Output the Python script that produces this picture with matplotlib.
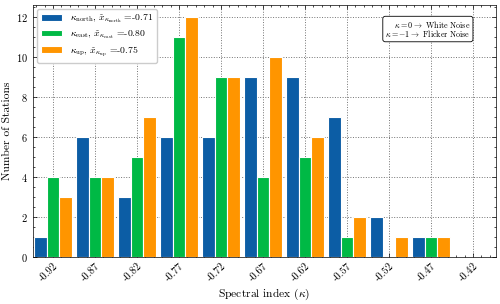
import numpy as np
import matplotlib
matplotlib.use('Agg')
import matplotlib.pyplot as plt
from matplotlib.ticker import MultipleLocator

plt.rcParams['font.family'] = ['cmr10', 'DejaVu Serif']
plt.rcParams['mathtext.fontset'] = 'cm'
plt.rcParams['axes.unicode_minus'] = False
plt.rcParams['axes.formatter.use_mathtext'] = True

# bin centres (spectral index) and station counts per component
centers = [-0.92, -0.87, -0.82, -0.77, -0.72, -0.67, -0.62, -0.57, -0.52, -0.47, -0.42]
tick_labels = ['-0.92', '-0.87', '-0.82', '-0.77', '-0.72', '-0.67', '-0.62',
               '-0.57', '-0.52', '-0.47', '-0.42']
n_north = [1, 6, 3, 6, 6, 9, 9, 7, 2, 1, 0]
n_east = [4, 4, 5, 11, 9, 4, 5, 1, 0, 1, 0]
n_up = [3, 4, 7, 12, 9, 10, 6, 2, 1, 1, 0]
med = {'north': -0.71, 'east': -0.80, 'up': -0.75}

colors = ['#0C5DA5', '#00B945', '#FF9500']
w = 0.015
x = np.array(centers)

fig = plt.figure(figsize=(5.0, 3.04), dpi=100)
ax = fig.add_axes([0.066, 0.156, 0.926, 0.828])

series = [('north', n_north), ('east', n_east), ('up', n_up)]
for i, (name, vals) in enumerate(series):
    lab = (r'$\kappa_{\rm %s}$, $\tilde{x}_{\kappa_{\rm %s}}$ =%.2f'
           % (name, name, med[name]))
    ax.bar(x + (i - 1) * w, vals, width=w, color=colors[i],
           edgecolor='white', linewidth=0.8, label=lab, zorder=2)

ax.set_xticks(centers)
ax.set_xticklabels(tick_labels, rotation=45, ha='right', rotation_mode='anchor',
                   fontsize=7.5)
ax.xaxis.set_minor_locator(MultipleLocator(0.01))
ax.yaxis.set_major_locator(MultipleLocator(2))
ax.yaxis.set_minor_locator(MultipleLocator(0.5))
ax.tick_params(axis='y', labelsize=7.5)
ax.tick_params(which='both', direction='in', top=True, right=True)
ax.tick_params(which='major', length=3, width=0.5)
ax.tick_params(which='minor', length=1.5, width=0.5)
for s in ax.spines.values():
    s.set_linewidth(0.5)

ax.set_xlim(-0.9438, -0.3926)
ax.set_ylim(0, 12.6)
ax.grid(True, which='major', ls=':', color='0.45', lw=0.7, zorder=0)
ax.set_axisbelow(True)

ax.set_xlabel(r'Spectral index ($\kappa$)', fontsize=8.3, labelpad=2)
ax.set_ylabel('Number of Stations', fontsize=8.3, labelpad=3)

ax.legend(loc='upper left', fontsize=7, frameon=True, framealpha=1,
          edgecolor='0.8', handlelength=2.2, borderaxespad=0.4,
          labelspacing=0.3)

ax.text(0.945, 0.945, '$\\kappa = 0 \\rightarrow$ White Noise\n'
        '$\\kappa = -1 \\rightarrow$ Flicker Noise',
        transform=ax.transAxes, ha='right', va='top', fontsize=5.8,
        multialignment='right', linespacing=0.85,
        bbox=dict(boxstyle='round,pad=0.3', fc='white', ec='black', lw=0.6))

fig.savefig('out.png', dpi=100)
